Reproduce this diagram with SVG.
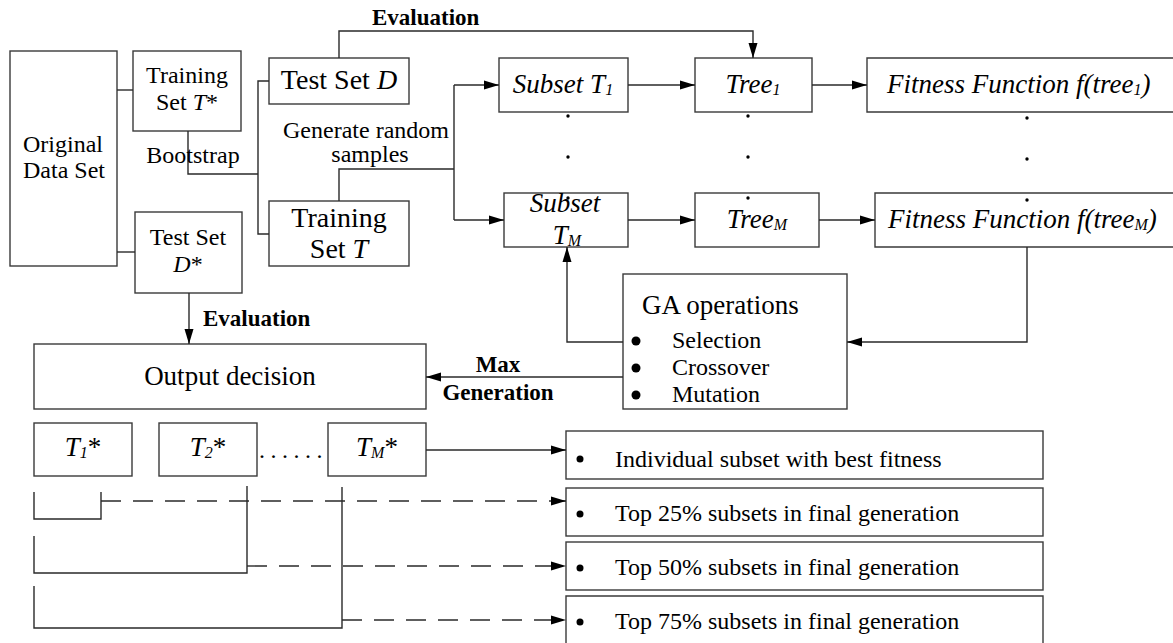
<svg xmlns="http://www.w3.org/2000/svg" width="1173" height="643" viewBox="0 0 1173 643">
<style>
.b{fill:#fff;stroke:#3a3a3a;stroke-width:1.4}
.c{fill:none;stroke:#2a2a2a;stroke-width:1.4}
.d{fill:none;stroke:#2a2a2a;stroke-width:1.4;stroke-dasharray:20 12}
text{font-family:"Liberation Serif","Times New Roman",serif;fill:#000}
.t24{font-size:24px}
.t27{font-size:27px}
.t28{font-size:28px}
.bo{font-size:23px;font-weight:bold}
.i{font-style:italic}
.m{text-anchor:middle}
.sub{font-size:16px}
.dot{fill:#000}
</style>
<defs>
<marker id="ah" markerWidth="15" markerHeight="10" refX="15" refY="5" orient="auto" markerUnits="userSpaceOnUse">
<path d="M0,0.5 L15,5 L0,9.5 z" fill="#000"/>
</marker>
</defs>

<g id="original">
<rect class="b" x="10" y="51" width="107" height="215"/>
<text class="t24 m" x="63" y="152">Original</text>
<text class="t24 m" x="64" y="178">Data Set</text>
</g>
<g id="trainStar">
<rect class="b" x="133" y="51" width="108" height="80"/>
<text class="t24 m" x="187" y="83">Training</text>
<text class="t24 m" x="187" y="110">Set <tspan class="i">T</tspan>*</text>
</g>
<g id="testStar">
<rect class="b" x="135" y="212" width="107" height="81"/>
<text class="t24 m" x="188" y="245">Test Set</text>
<text class="t24 m" x="188" y="272"><tspan class="i">D</tspan>*</text>
</g>
<g id="testD">
<rect class="b" x="269" y="58" width="140" height="46"/>
<text class="t28 m" x="339" y="89">Test Set <tspan class="i">D</tspan></text>
</g>
<g id="trainT">
<rect class="b" x="269" y="201" width="140" height="65"/>
<text class="t28 m" x="339" y="227">Training</text>
<text class="t28 m" x="339" y="258">Set <tspan class="i">T</tspan></text>
</g>
<g id="subset1">
<rect class="b" x="499" y="58" width="129" height="54"/>
<text class="t27 i m" x="563" y="93">Subset T<tspan class="sub" dy="2">1</tspan></text>
</g>
<g id="tree1">
<rect class="b" x="695" y="58" width="117" height="54"/>
<text class="t27 i m" x="753" y="93">Tree<tspan class="sub" dy="2">1</tspan></text>
</g>
<g id="fitness1">
<path class="b" d="M1173,58 H867 V112 H1173"/>
<text class="t27 i" x="887" y="93">Fitness Function f(tree<tspan class="sub" dy="2">1</tspan><tspan dy="-2">)</tspan></text>
</g>
<g id="subsetM">
<rect class="b" x="504" y="193" width="124" height="54"/>
<text class="t27 i m" x="565" y="212">Subset</text>
<text class="t27 i m" x="567" y="244">T<tspan class="sub" dy="2">M</tspan></text>
</g>
<g id="treeM">
<rect class="b" x="695" y="193" width="124" height="54"/>
<text class="t27 i m" x="757" y="228">Tree<tspan class="sub" dy="2">M</tspan></text>
</g>
<g id="fitnessM">
<path class="b" d="M1173,193 H875 V247 H1173"/>
<text class="t27 i" x="888" y="228">Fitness Function f(tree<tspan class="sub" dy="2">M</tspan><tspan dy="-2">)</tspan></text>
</g>
<g id="dots">
<circle class="dot" cx="568" cy="116" r="1.7"/>
<circle class="dot" cx="568" cy="157" r="1.7"/>
<circle class="dot" cx="568" cy="198" r="1.7"/>
<circle class="dot" cx="748" cy="116" r="1.7"/>
<circle class="dot" cx="748" cy="157" r="1.7"/>
<circle class="dot" cx="748" cy="198" r="1.7"/>
<circle class="dot" cx="1027" cy="118" r="1.7"/>
<circle class="dot" cx="1027" cy="159" r="1.7"/>
<circle class="dot" cx="1027" cy="200" r="1.7"/>
</g>
<g id="ga">
<rect class="b" x="623" y="274" width="224" height="135"/>
<text class="t27" x="642" y="314">GA operations</text>
<circle class="dot" cx="636" cy="341" r="4.5"/>
<circle class="dot" cx="636" cy="368" r="4.5"/>
<circle class="dot" cx="636" cy="395" r="4.5"/>
<text style="font-size:24px" x="672" y="348">Selection</text>
<text style="font-size:24px" x="672" y="375">Crossover</text>
<text style="font-size:24px" x="672" y="402">Mutation</text>
</g>
<g id="output">
<rect class="b" x="34" y="344" width="392" height="65"/>
<text class="t27 m" x="230" y="385">Output decision</text>
</g>
<g id="t1star">
<rect class="b" x="34" y="423" width="98" height="53"/>
<text class="t27 m" x="83" y="456"><tspan class="i">T</tspan><tspan class="sub i" dy="2">1</tspan><tspan dy="-2">*</tspan></text>
</g>
<g id="t2star">
<rect class="b" x="159" y="423" width="98" height="53"/>
<text class="t27 m" x="208" y="456"><tspan class="i">T</tspan><tspan class="sub i" dy="2">2</tspan><tspan dy="-2">*</tspan></text>
</g>
<g id="tmstar">
<rect class="b" x="328" y="423" width="98" height="53"/>
<text class="t27 m" x="377" y="456"><tspan class="i">T</tspan><tspan class="sub i" dy="2">M</tspan><tspan dy="-2">*</tspan></text>
</g>
<text class="t24" x="259" y="458" letter-spacing="5.5">......</text>
<g id="r1">
<rect class="b" x="566" y="431" width="477" height="48"/>
<circle class="dot" cx="580" cy="459" r="3.5"/>
<text class="t24" x="615" y="467">Individual subset with best fitness</text>
</g>
<g id="r2">
<rect class="b" x="566" y="488" width="477" height="48"/>
<circle class="dot" cx="580" cy="514" r="3.5"/>
<text class="t24" x="615" y="521">Top 25% subsets in final generation</text>
</g>
<g id="r3">
<rect class="b" x="566" y="542" width="477" height="48"/>
<circle class="dot" cx="580" cy="568" r="3.5"/>
<text class="t24" x="615" y="575">Top 50% subsets in final generation</text>
</g>
<g id="r4">
<path class="b" d="M566,643 V596 H1043 V643"/>
<circle class="dot" cx="580" cy="622" r="3.5"/>
<text class="t24" x="615" y="629">Top 75% subsets in final generation</text>
</g>

<g id="connectors">
<path class="c" d="M117,90 H133"/>
<path class="c" d="M117,252 H135"/>
<path class="c" d="M188,131 V174 H258"/>
<path class="c" d="M269,81 H258 V234 H269"/>
<path class="c" d="M339,58 V31 H753 V58" marker-end="url(#ah)"/>
<path class="c" d="M339,201 V169 H454"/>
<path class="c" d="M454,85 V220"/>
<path class="c" d="M454,85 H499" marker-end="url(#ah)"/>
<path class="c" d="M454,220 H504" marker-end="url(#ah)"/>
<path class="c" d="M628,85 H695" marker-end="url(#ah)"/>
<path class="c" d="M812,85 H867" marker-end="url(#ah)"/>
<path class="c" d="M628,220 H695" marker-end="url(#ah)"/>
<path class="c" d="M819,220 H875" marker-end="url(#ah)"/>
<path class="c" d="M1027,247 V342 H847" marker-end="url(#ah)"/>
<path class="c" d="M623,342 H567 V247" marker-end="url(#ah)"/>
<path class="c" d="M623,377 H426" marker-end="url(#ah)"/>
<path class="c" d="M189,293 V344" marker-end="url(#ah)"/>
<path class="c" d="M426,450 H566" marker-end="url(#ah)"/>
<path class="c" d="M34,492 V519 H101 V492"/>
<path class="c" d="M34,536 V573 H247 V486"/>
<path class="c" d="M34,586 V628 H342 V487"/>
<path class="d" d="M101,501 H566" marker-end="url(#ah)"/>
<path class="d" d="M247,566 H566" marker-end="url(#ah)"/>
<path class="d" d="M342,620 H566" marker-end="url(#ah)"/>
<text class="bo" x="372" y="25">Evaluation</text>
<text class="t24" x="366" y="138" text-anchor="middle">Generate random</text>
<text class="t24" x="370" y="162" text-anchor="middle">samples</text>
<text class="t24" x="193" y="163" text-anchor="middle">Bootstrap</text>
<text class="bo" x="203" y="326">Evaluation</text>
<text class="bo m" x="498" y="372">Max</text>
<text class="bo m" x="498" y="400">Generation</text>
</g>
</svg>
